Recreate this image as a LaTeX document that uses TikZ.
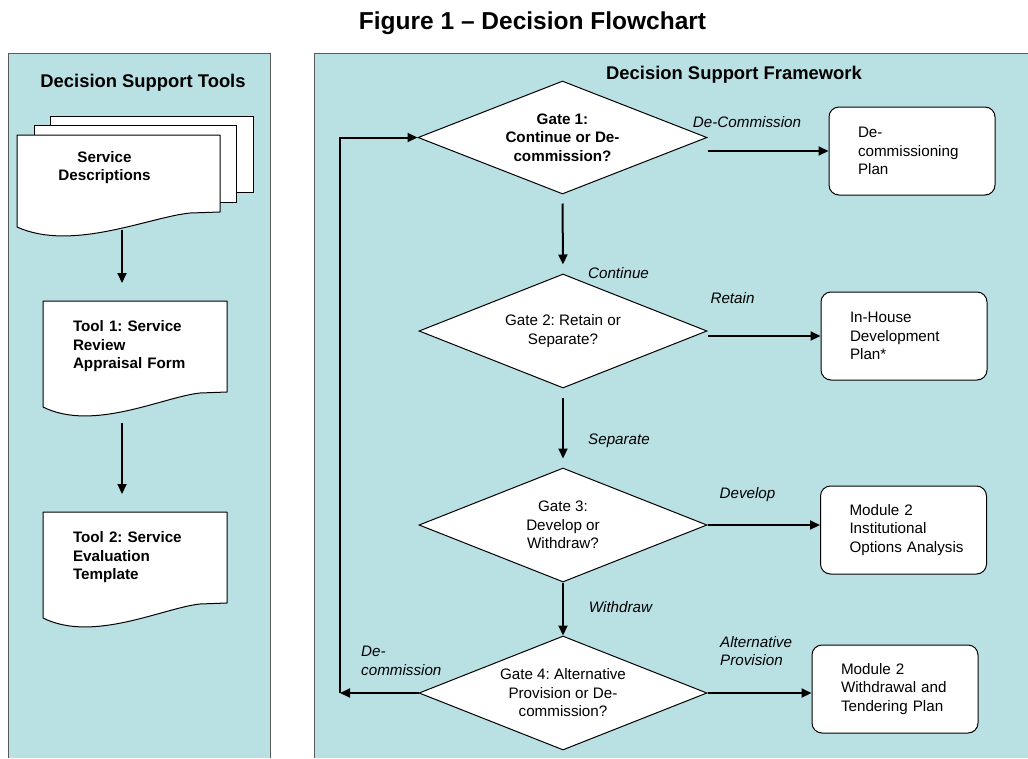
\documentclass[tikz,border=0pt]{standalone}
\usepackage{fontspec}
\setmainfont{Liberation Sans}
\usepackage{tikz}
\usetikzlibrary{positioning,shapes.geometric,arrows.meta,calc}
\frenchspacing

\definecolor{panelblue}{RGB}{185,224,227}

\newcommand{\bodyfont}{\fontsize{15.2}{18.5}\selectfont}
\newcommand{\headfont}{\fontsize{18.4}{22}\selectfont\bfseries}

% wavy lower edge of a document node
\newcommand{\docwave}[1]{%
  \fill[white] (#1.south west) -- (#1.south east)
    -- ($(#1.south west)!0.853!(#1.south east)+(0,1)$)
    .. controls ($(#1.south west)!0.652!(#1.south east)+(0,5)$)
       and ($(#1.south west)!0.272!(#1.south east)+(0,40)$)
    .. ($(#1.south west)+(0,15)$) -- cycle;
  \draw[doc line] ($(#1.south west)+(0,15)$) -- (#1.north west)
    -- (#1.north east) -- (#1.south east)
    -- ($(#1.south west)!0.853!(#1.south east)+(0,1)$)
    .. controls ($(#1.south west)!0.652!(#1.south east)+(0,5)$)
       and ($(#1.south west)!0.272!(#1.south east)+(0,40)$)
    .. ($(#1.south west)+(0,15)$);%
}

\tikzset{
  panel edge/.style={draw=black!65, line width=1pt},
  page/.style={draw, fill=white, line width=1pt, inner sep=0pt},
  docpage/.style={fill=white, inner sep=0pt, outer sep=0pt, font=\bodyfont\bfseries, align=left},
  doc line/.style={draw, line width=1pt, line join=round},
  gate/.style={diamond, aspect=2.53, draw, fill=white, line width=1pt, inner sep=0pt,
    align=center, font=\bodyfont, minimum width=288pt, minimum height=114pt},
  plan/.style={rectangle, rounded corners=10pt, draw, fill=white, line width=1pt,
    minimum width=166pt, minimum height=88pt, text width=108pt, inner xsep=29pt,
    align=left, font=\bodyfont},
  flow/.style={->, line width=2pt},
  choice/.style={font=\bodyfont\itshape, inner sep=0pt},
  heading/.style={font=\headfont, inner sep=0pt, anchor=base},
}

\begin{document}
\begin{tikzpicture}[x=1pt, y=-1pt, >={Triangle[length=10pt,width=9pt]}]

\useasboundingbox (0,0) rectangle (1028,758);

\node [font=\fontsize{24.5}{29}\selectfont\bfseries, inner sep=0pt, anchor=base] (title) at (532.5,29) {Figure 1 – Decision Flowchart};

% panels
\fill [panelblue] (8,53) rectangle (270,758);
\draw [panel edge] (8,758) -- (8,53) -- (270,53) -- (270,758);
\fill [panelblue] (314,53) rectangle (1028,758);
\draw [panel edge] (314,758) -- (314,53) -- (1028,53);

\node [heading] (toolshead) at (143,87) {Decision Support Tools};
\node [heading] (frameworkhead) at (734,79) {Decision Support Framework};

% tools
\node [page, minimum width=203pt, minimum height=76pt] (sdback) at (151.5,154) {};
\node [page, minimum width=202pt, minimum height=77pt] (sdmid) at (135,163.5) {};
\node [docpage, minimum width=203pt, minimum height=77pt,
  label={[name=sdtext, xshift=-14pt, yshift=6pt, font=\bodyfont\bfseries, align=center]center:Service\\Descriptions}]
  (sdfront) at (118.5,173.5) {};
\docwave{sdfront}

\node [docpage, minimum height=91pt, text width=124pt, inner xsep=30pt] (tool1) at (135,346.5) {Tool 1: Service\\Review\\Appraisal Form};
\docwave{tool1}

\node [docpage, minimum height=91pt, text width=124pt, inner xsep=30pt] (tool2) at (135,557.5) {Tool 2: Service\\Evaluation\\Template};
\docwave{tool2}

\coordinate (toolaxis) at (122,0);
\draw [flow, shorten <=18pt, shorten >=18pt] (sdfront.south -| toolaxis) -- (tool1.north -| toolaxis);
\draw [flow, shorten <=31pt, shorten >=18pt] (tool1.south -| toolaxis) -- (tool2.north -| toolaxis);

% gates
\node [gate, font=\bodyfont\bfseries, minimum width=289pt, minimum height=113pt] (g1) at (562.5,137.5) {Gate 1:\\Continue or De-\\commission?};
\node [gate] (g2) at (563,331) {Gate 2: Retain or\\Separate?};
\node [gate] (g3) at (563,525) {Gate 3:\\Develop or\\Withdraw?};
\node [gate] (g4) at (563,693) {Gate 4: Alternative\\Provision or De-\\commission?};

% outcomes
\node [plan] (dplan) at (912,151) {De-\\commissioning\\Plan};
\node [plan] (ihplan) at (904,336) {In-House\\Development\\Plan*};
\node [plan] (optplan) at (903.5,530) {Module 2\\Institutional\\\mbox{Options Analysis}};
\node [plan] (wdplan) at (895,689) {Module 2\\Withdrawal and\\Tendering Plan};

% arrows
\draw [flow, shorten <=9pt, shorten >=9pt] (g1.south) -- (g2.north);
\draw [flow, shorten <=9pt, shorten >=9pt] (g2.south) -- (g3.north);
\draw [flow] (g3.south) -- (g4.north);

\draw [flow] (g1.east |- dplan.west) -- (dplan.west);
\draw [flow] (g2.east |- ihplan.west) -- (ihplan.west);
\draw [flow] (g3.east) -- (g3.east -| optplan.west);
\draw [flow] (g4.east) -- (g4.east -| wdplan.west);

\coordinate (loopcorner) at (340,697);
\draw [flow] (g4.west) -- (g4.west -| loopcorner);
\draw [flow] (g4.west -| loopcorner) |- (g1.west);

\node [choice, anchor=base] (decomlabel) at (747,127) {De-Commission};
\node [choice, anchor=base] (contlabel) at (618.5,278) {Continue};
\node [choice, anchor=base] (retainlabel) at (732.5,303) {Retain};
\node [choice, anchor=base] (seplabel) at (619,444) {Separate};
\node [choice, anchor=base] (devlabel) at (747.5,498) {Develop};
\node [choice, anchor=base] (wdlabel) at (620.5,612) {Withdraw};
\node [choice, anchor=north west, align=left] (altlabel) at (720,636) {Alternative\\Provision};
\node [choice, anchor=north west, align=left] (backlabel) at (361,646) {De-\\commission};
\end{tikzpicture}
\end{document}
